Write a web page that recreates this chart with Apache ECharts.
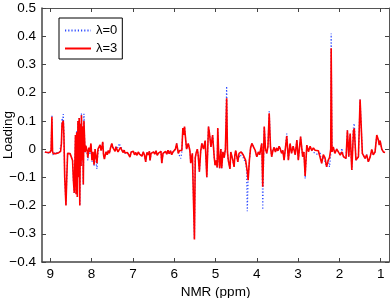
<!DOCTYPE html>
<html>
<head>
<meta charset="utf-8">
<script src="https://cdn.jsdelivr.net/npm/echarts@6/dist/echarts.min.js"></script>
<style>
  html, body { margin: 0; padding: 0; background: #fff; }
  #chart { width: 390px; height: 298px; }
</style>
</head>
<body>
<div id="chart"></div>
<script>
const chart = echarts.init(document.getElementById("chart"));

// chemical shift positions (ppm), shared by both loadings
const ppm = [
  9.13, 9.10, 9.07, 9.04, 9.01, 8.98, 8.96, 8.945, 8.93, 8.90,
  8.87, 8.84, 8.81, 8.78, 8.75, 8.73, 8.715, 8.70, 8.685, 8.67,
  8.65, 8.62, 8.60, 8.58, 8.55, 8.52, 8.49, 8.46, 8.44, 8.42,
  8.405, 8.39, 8.375, 8.36, 8.345, 8.33, 8.315, 8.30, 8.285, 8.27,
  8.255, 8.245, 8.23, 8.215, 8.20, 8.185, 8.17, 8.155, 8.14, 8.11,
  8.09, 8.065, 8.04, 8.015, 7.99, 7.965, 7.94, 7.915, 7.89, 7.87,
  7.845, 7.82, 7.795, 7.77, 7.745, 7.73, 7.71, 7.69, 7.675, 7.65,
  7.62, 7.595, 7.57, 7.54, 7.51, 7.485, 7.46, 7.43, 7.41, 7.39,
  7.36, 7.33, 7.30, 7.27, 7.24, 7.21, 7.19, 7.16, 7.135, 7.10,
  7.07, 7.04, 7.01, 6.99, 6.96, 6.93, 6.90, 6.87, 6.84, 6.81,
  6.78, 6.75, 6.72, 6.69, 6.66, 6.63, 6.60, 6.585, 6.56, 6.53,
  6.50, 6.47, 6.44, 6.41, 6.38, 6.35, 6.32, 6.30, 6.27, 6.24,
  6.21, 6.18, 6.15, 6.12, 6.09, 6.06, 6.03, 6.00, 5.97, 5.94,
  5.90, 5.87, 5.84, 5.815, 5.79, 5.77, 5.75, 5.72, 5.70, 5.66,
  5.62, 5.60, 5.56, 5.535, 5.51, 5.49, 5.47, 5.44, 5.42, 5.39,
  5.36, 5.33, 5.29, 5.25, 5.21, 5.17, 5.15, 5.11, 5.07, 5.03,
  5.01, 4.98, 4.96, 4.945, 4.92, 4.90, 4.87, 4.85, 4.82, 4.79,
  4.76, 4.73, 4.71, 4.69, 4.65, 4.63, 4.61, 4.58, 4.55, 4.53,
  4.51, 4.49, 4.46, 4.43, 4.41, 4.38, 4.36, 4.33, 4.30, 4.27,
  4.25, 4.23, 4.21, 4.18, 4.15, 4.12, 4.08, 4.04, 4.00, 3.96,
  3.93, 3.90, 3.88, 3.856, 3.82, 3.79, 3.76, 3.73, 3.70, 3.67,
  3.64, 3.61, 3.58, 3.55, 3.52, 3.49, 3.46, 3.43, 3.40, 3.37,
  3.34, 3.31, 3.275, 3.236, 3.195, 3.16, 3.12, 3.07, 3.03, 2.995,
  2.94, 2.89, 2.86, 2.83, 2.79, 2.75, 2.71, 2.67, 2.63, 2.59,
  2.55, 2.51, 2.47, 2.43, 2.39, 2.35, 2.31, 2.27, 2.24, 2.21,
  2.20, 2.18, 2.15, 2.11, 2.065, 2.025, 1.98, 1.94, 1.90, 1.86,
  1.84, 1.807, 1.774, 1.74, 1.70, 1.66, 1.64, 1.60, 1.54, 1.50,
  1.476, 1.445, 1.42, 1.38, 1.34, 1.30, 1.26, 1.217, 1.18, 1.137,
  1.096, 1.057, 1.036, 1.016, 0.975, 0.936, 0.895
];

// loading for lambda = 3 (red, solid)
const lambda3 = [
  -0.010, -0.014, -0.012, -0.016, -0.012, -0.004, 0.115, -0.008, -0.016, -0.012,
  -0.016, -0.010, -0.014, -0.012, -0.008, 0.020, 0.090, 0.085, 0.100, 0.050,
  -0.100, -0.200, -0.100, -0.015, -0.012, -0.016, -0.020, -0.040, -0.110, -0.155,
  -0.160, 0.050, -0.160, 0.060, -0.170, 0.100, -0.100, 0.110, -0.200, 0.090,
  -0.060, 0.120, -0.040, 0.080, -0.125, 0.100, 0.040, -0.010, 0.012, -0.005,
  -0.030, 0.005, -0.010, 0.020, -0.040, -0.010, -0.055, 0.000, -0.030, -0.050,
  0.000, 0.000, 0.015, -0.005, 0.010, 0.026, -0.020, -0.035, -0.040, -0.010,
  -0.020, -0.005, -0.015, 0.005, 0.020, 0.005, 0.012, -0.008, 0.008, 0.004,
  -0.010, -0.004, 0.006, 0.000, -0.012, -0.004, -0.014, -0.008, -0.012, -0.020,
  -0.028, -0.010, -0.016, -0.008, -0.020, -0.012, -0.022, -0.010, -0.018, -0.012,
  -0.025, -0.010, -0.020, -0.045, -0.012, -0.020, -0.008, -0.040, -0.015, -0.022,
  -0.010, -0.018, -0.006, -0.022, -0.014, -0.020, -0.008, -0.050, -0.015, -0.020,
  -0.008, -0.018, -0.004, -0.016, -0.006, -0.020, -0.010, -0.014, 0.000, 0.020,
  -0.015, -0.005, -0.010, -0.005, 0.075, 0.050, 0.080, 0.030, 0.000, 0.020,
  -0.005, -0.050, -0.015, -0.020, -0.320, -0.030, -0.015, 0.000, -0.020, -0.080,
  -0.010, 0.020, 0.000, 0.030, -0.100, 0.080, 0.060, 0.008, 0.050, -0.030,
  -0.057, -0.040, -0.065, 0.075, -0.030, -0.068, 0.000, -0.068, -0.010, -0.030,
  0.000, 0.180, -0.010, -0.040, -0.070, -0.010, -0.004, -0.040, -0.063, -0.020,
  -0.005, -0.010, -0.045, -0.015, -0.020, -0.010, -0.004, -0.020, -0.030, -0.040,
  -0.060, -0.080, -0.110, -0.040, 0.005, 0.020, 0.008, -0.004, -0.027, -0.010,
  -0.020, 0.005, 0.020, -0.133, 0.080, 0.000, -0.015, 0.010, 0.127, 0.010,
  -0.027, -0.005, 0.006, -0.010, 0.004, -0.006, 0.010, 0.000, -0.015, -0.004,
  -0.039, 0.000, 0.046, -0.039, 0.020, -0.015, 0.010, -0.020, 0.032, -0.039,
  0.044, -0.027, -0.010, -0.095, 0.014, -0.009, 0.010, -0.005, 0.004, -0.004,
  0.002, -0.006, 0.000, -0.050, -0.020, -0.030, -0.063, -0.039, -0.030, 0.000,
  0.357, -0.010, 0.008, -0.015, 0.000, -0.001, -0.021, -0.010, -0.027, -0.020,
  -0.033, 0.067, -0.027, 0.055, -0.074, 0.065, 0.073, -0.039, -0.027, 0.176,
  0.170, -0.015, -0.009, -0.033, -0.020, -0.045, -0.030, -0.001, -0.020, -0.010,
  0.050, 0.032, 0.014, 0.030, 0.000, -0.010, -0.012
];

// loading for lambda = 0 (blue, dotted)
const lambda0 = [
  -0.010, -0.012, -0.015, -0.018, -0.013, -0.004, 0.122, -0.010, -0.022, -0.012,
  -0.014, -0.012, -0.014, -0.012, -0.006, 0.020, 0.110, 0.098, 0.124, 0.060,
  -0.100, -0.200, -0.100, -0.015, -0.010, -0.018, -0.020, -0.040, -0.110, -0.155,
  -0.160, 0.050, -0.160, 0.065, -0.170, 0.100, -0.100, 0.110, -0.200, 0.090,
  -0.060, 0.127, -0.040, 0.080, -0.125, 0.125, 0.040, -0.015, 0.010, -0.010,
  -0.040, 0.000, -0.020, 0.015, -0.045, -0.020, -0.060, 0.000, -0.050, -0.070,
  -0.010, 0.000, 0.015, -0.005, 0.010, 0.026, -0.020, -0.035, -0.040, -0.010,
  -0.020, -0.005, -0.015, 0.005, 0.020, 0.008, 0.012, -0.005, 0.010, 0.008,
  0.005, 0.020, 0.010, 0.016, -0.005, -0.004, -0.014, -0.008, -0.012, -0.020,
  -0.028, -0.010, -0.016, -0.008, -0.020, -0.012, -0.022, -0.010, -0.018, -0.012,
  -0.025, -0.010, -0.020, -0.045, -0.012, -0.020, -0.008, -0.040, -0.015, -0.022,
  -0.010, -0.018, -0.006, -0.022, -0.014, -0.020, -0.008, -0.050, -0.015, -0.020,
  -0.008, -0.018, -0.004, -0.020, -0.006, -0.020, -0.010, -0.014, 0.000, 0.020,
  -0.015, -0.010, -0.033, -0.010, 0.075, 0.050, 0.080, 0.030, 0.000, 0.020,
  -0.005, -0.050, -0.015, -0.020, -0.320, -0.030, -0.015, 0.000, -0.020, -0.080,
  -0.010, 0.020, 0.000, 0.030, -0.100, 0.080, 0.060, 0.008, 0.050, -0.030,
  -0.057, -0.040, -0.065, 0.075, -0.030, -0.068, 0.000, -0.068, -0.010, -0.030,
  0.000, 0.223, -0.010, -0.040, -0.070, -0.010, -0.004, -0.040, -0.063, -0.020,
  -0.005, -0.010, -0.045, -0.020, -0.030, -0.020, -0.010, -0.030, -0.040, -0.050,
  -0.070, -0.220, -0.100, -0.040, 0.005, 0.020, 0.008, -0.004, -0.027, -0.010,
  -0.020, 0.005, 0.020, -0.215, 0.080, 0.000, -0.015, 0.010, 0.138, 0.010,
  -0.027, -0.005, 0.006, -0.010, 0.004, -0.006, 0.010, 0.000, -0.015, -0.004,
  -0.039, 0.000, 0.055, -0.039, 0.020, -0.015, 0.010, -0.020, 0.032, -0.039,
  0.044, -0.027, -0.010, -0.105, 0.014, -0.009, 0.010, -0.005, -0.010, -0.015,
  -0.012, -0.020, -0.010, -0.050, -0.025, -0.030, -0.063, -0.039, -0.063, -0.020,
  0.410, -0.010, 0.008, -0.015, 0.000, 0.003, -0.021, 0.003, -0.027, -0.020,
  -0.033, 0.067, -0.027, 0.055, -0.074, 0.080, 0.091, -0.039, -0.027, 0.176,
  0.170, -0.015, -0.009, -0.033, -0.020, -0.045, -0.030, -0.001, -0.020, -0.010,
  0.050, 0.032, 0.014, 0.030, 0.000, -0.010, -0.012
];

const xTicks = [1, 2, 3, 4, 5, 6, 7, 8, 9];

const FONT = "Liberation Sans";
const frame = { show: true, onZero: false, lineStyle: { color: "#444", width: 1.5 } };
const thinFrame = { show: true, onZero: false, lineStyle: { color: "#555", width: 1 } };
const tick = { show: true, inside: true, length: 4, lineStyle: { color: "#444", width: 1 } };

function yLabel(v) {
  const r = Math.round(v * 10) / 10;
  if (r === 0) return "0";
  return (r < 0 ? "\u2212" : "") + Math.abs(r).toFixed(1);
}

chart.setOption({
  animation: false,
  backgroundColor: "#fff",
  grid: { left: 42, right: 1, top: 8, bottom: 36, containLabel: false, outerBoundsMode: "none" },
  legend: {
    left: 59, top: 18,
    orient: "vertical",
    data: ["λ=0", "λ=3"],
    backgroundColor: "#fff",
    borderColor: "#000",
    borderWidth: 1,
    borderRadius: 0,
    padding: [6, 5, 4, 5],
    itemWidth: 26,
    itemHeight: 12,
    itemGap: 5,
    itemStyle: { opacity: 0 },
    textStyle: { fontFamily: FONT, fontSize: 13, color: "#000" }
  },
  xAxis: [{
    type: "value",
    min: 0.8, max: 9.2,
    inverse: true,
    position: "bottom",
    name: "NMR (ppm)",
    nameLocation: "middle",
    nameGap: 23,
    nameMoveOverlap: false,
    nameTextStyle: { fontFamily: FONT, fontSize: 13.5, color: "#000" },
    axisLine: frame,
    axisTick: Object.assign({ customValues: xTicks }, tick),
    axisLabel: { customValues: xTicks, margin: 5, fontFamily: FONT, fontSize: 13.5, color: "#000" },
    splitLine: { show: false }
  }, {
    type: "value",
    min: 0.8, max: 9.2,
    inverse: true,
    position: "top",
    axisLine: thinFrame,
    axisTick: Object.assign({ customValues: xTicks }, tick),
    axisLabel: { show: false },
    splitLine: { show: false }
  }],
  yAxis: [{
    type: "value",
    min: -0.4, max: 0.5, interval: 0.1,
    position: "left",
    name: "Loading",
    nameLocation: "middle",
    nameGap: 27,
    nameMoveOverlap: false,
    nameTextStyle: { fontFamily: FONT, fontSize: 13.5, color: "#000" },
    axisLine: frame,
    axisTick: tick,
    axisLabel: { margin: 6, fontFamily: FONT, fontSize: 13.5, color: "#000", formatter: yLabel },
    splitLine: { show: false }
  }, {
    type: "value",
    min: -0.4, max: 0.5, interval: 0.1,
    position: "right",
    axisLine: thinFrame,
    axisTick: tick,
    axisLabel: { show: false },
    splitLine: { show: false }
  }],
  series: [{
    name: "λ=0",
    type: "line",
    symbol: "none",
    color: "#2f4cff",
    lineStyle: { color: "#2f4cff", width: 1.2, type: [1.2, 2] },
    data: ppm.map((p, i) => [p, lambda0[i]])
  }, {
    name: "λ=3",
    type: "line",
    symbol: "none",
    color: "#ff0000",
    lineStyle: { color: "#ff0000", width: 1.6 },
    data: ppm.map((p, i) => [p, lambda3[i]])
  }]
});
</script>
</body>
</html>
